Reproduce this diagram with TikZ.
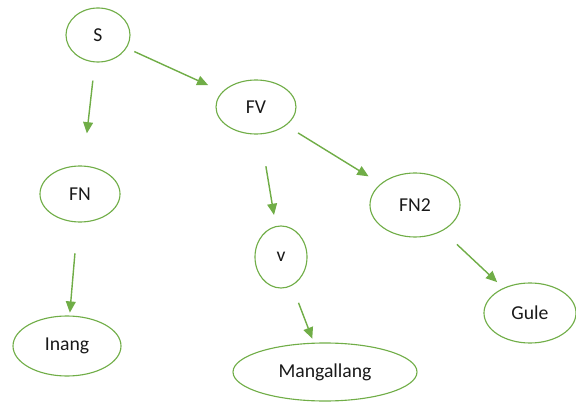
\documentclass[tikz,border=0pt]{standalone}
\usepackage{fontspec}
\setmainfont{Carlito}
\usepackage{tikz}
\usetikzlibrary{shapes.geometric,arrows.meta}

\definecolor{leafgreen}{RGB}{112,173,71}

\tikzset{
    word/.style={ellipse, draw=leafgreen, line width=0.8pt, inner sep=0pt,
        font=\fontsize{14}{16}\selectfont, text=black!90},
    link/.style={->, line width=1pt, draw=leafgreen, fill=leafgreen},
    >={Triangle[length=8pt,width=7pt]}
}

\begin{document}
\begin{tikzpicture}[]
        \useasboundingbox (0, 0) rectangle (14.4, -10.05);

        \node[word, minimum width=1.6cm, minimum height=1.35cm] (S) at (2.45, -0.875) {S};
        \node[word, minimum width=2.0cm, minimum height=1.35cm] (FV) at (6.4, -2.675) {FV};
        \node[word, minimum width=2.0cm, minimum height=1.4cm] (FN) at (2.0, -4.85) {FN};
        \node[word, minimum width=2.25cm, minimum height=1.6cm] (FNtwo) at (10.375, -5.125) {FN2};
        \node[word, minimum width=1.3cm, minimum height=1.55cm] (v) at (7.025, -6.425) {v};
        \node[word, minimum width=2.7cm, minimum height=1.5cm] (Inang) at (1.675, -8.65) {Inang};
        \node[word, minimum width=4.6cm, minimum height=1.45cm] (Mangallang) at (8.125, -9.3) {Mangallang};
        \node[word, minimum width=2.3cm, minimum height=1.5cm] (Gule) at (13.25, -7.825) {Gule};

        \draw[link, shorten <=13pt, shorten >=23pt] (S) -- (FN);
        \draw[link, shorten <=6pt, shorten >=11pt] (S) -- (FV);
        \draw[link, shorten <=23pt, shorten >=8pt] (FV) -- (v);
        \draw[link, shorten <=10pt, shorten >=10pt] (FV) -- (FNtwo);
        \draw[link, shorten <=22pt, shorten >=2pt] (FN) -- (Inang);
        \draw[link, shorten <=13pt, shorten >=3pt] (v) -- (Mangallang);
        \draw[link, shorten <=14pt, shorten >=6pt] (FNtwo) -- (Gule);

    \end{tikzpicture}
\end{document}
